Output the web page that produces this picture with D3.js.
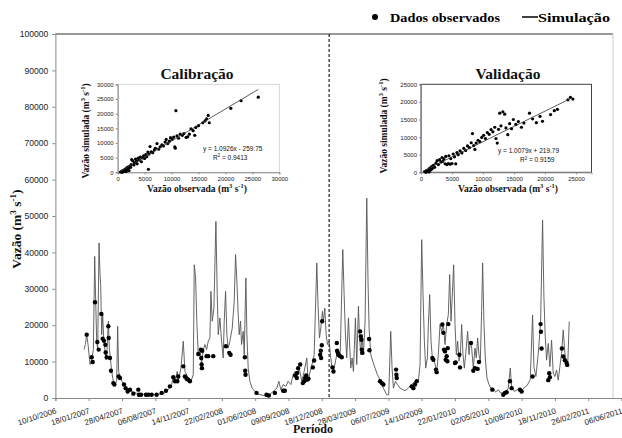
<!DOCTYPE html>
<html><head><meta charset="utf-8">
<script src="https://cdn.jsdelivr.net/npm/d3@7"></script>
<style>body{margin:0;background:#fff}svg{display:block}</style>
</head><body><svg id="c" width="622" height="438"></svg>
<script>
// ---------- DATA ----------
const startDate = "2006-10-10";
const endDate = "2011-06-06";
const splitDate = "2009-01-09";
const xTickLabels = ["10/10/2006","18/01/2007","28/04/2007","06/08/2007","14/11/2007","22/02/2008","01/06/2008","09/09/2008","18/12/2008","28/03/2009","06/07/2009","14/10/2009","22/01/2010","02/05/2010","10/08/2010","18/11/2010","26/02/2011","06/06/2011"];
const yTicks = [0,10000,20000,30000,40000,50000,60000,70000,80000,90000,100000];
// simulated flow: [days since start, m3/s]
const simSeries = [[86,13300],[90,14700],[94,17400],[98,14700],[104,9200],[109,10500],[114,13300],[118,38900],[121,26600],[124,15600],[127,13300],[131,42600],[134,33900],[136,31100],[139,17400],[142,22900],[145,16500],[148,13700],[152,10500],[155,13300],[159,21100],[162,13700],[165,11000],[169,7300],[174,4600],[179,3700],[184,4600],[187,19700],[190,7300],[194,5500],[200,4600],[206,3700],[212,2700],[219,2300],[226,1800],[234,1600],[244,1300],[259,1100],[274,900],[294,900],[314,1100],[329,1400],[339,2300],[349,3700],[354,5900],[359,4600],[366,7300],[369,4600],[377,8200],[384,15600],[389,7300],[399,5500],[407,4600],[414,6400],[417,36600],[421,33000],[425,20200],[429,11900],[434,13700],[439,9200],[444,13300],[449,14700],[454,13300],[459,15600],[464,16500],[467,29300],[471,21100],[476,24700],[482,48500],[486,28400],[489,17400],[494,22000],[499,15600],[504,11000],[507,21100],[511,29300],[515,17400],[519,13700],[524,15600],[531,19200],[537,26600],[541,39400],[545,32000],[549,22900],[552,17400],[556,21100],[559,14700],[564,18300],[567,11900],[572,33000],[575,17400],[579,8200],[584,4600],[591,2700],[599,1800],[609,1100],[624,700],[639,600],[654,1800],[665,2700],[671,4600],[677,2300],[684,3700],[692,3200],[699,4600],[707,3700],[714,6400],[720,7300],[725,5500],[732,8200],[740,4600],[747,7300],[755,11000],[759,4600],[765,7300],[773,10100],[777,11900],[785,37100],[789,24700],[793,16500],[797,19200],[802,23800],[805,21100],[809,24700],[813,17400],[817,14700],[822,15600],[827,11000],[831,8200],[835,7300],[840,9600],[845,11900],[850,12800],[855,11000],[863,40800],[867,28400],[871,17400],[875,11000],[880,22000],[883,15600],[887,8200],[891,11000],[895,7300],[901,22000],[905,9200],[910,25200],[913,17400],[917,11900],[921,17400],[925,11900],[930,21100],[935,54900],[939,31100],[942,19200],[947,11900],[953,10100],[960,8200],[967,6400],[975,5000],[985,2700],[995,900],[1001,900],[1007,18300],[1011,8200],[1015,2700],[1021,4600],[1027,3700],[1035,2700],[1050,2000],[1060,2700],[1070,3700],[1080,4600],[1090,4600],[1095,9200],[1100,43500],[1104,28400],[1108,15600],[1112,8200],[1117,11000],[1120,20200],[1124,28400],[1128,15600],[1132,11000],[1138,10100],[1145,7300],[1150,11900],[1155,20200],[1160,18300],[1165,20200],[1170,14700],[1175,20200],[1180,22900],[1184,33900],[1188,21100],[1192,28400],[1196,36600],[1200,20200],[1204,11900],[1208,15600],[1212,10100],[1216,11900],[1220,20200],[1224,11900],[1228,8200],[1232,11900],[1238,18300],[1242,11900],[1246,15600],[1250,13700],[1255,8200],[1260,13700],[1264,11000],[1268,16500],[1272,11900],[1276,10100],[1280,23800],[1283,37100],[1287,20200],[1291,11000],[1296,5500],[1302,3700],[1308,2700],[1315,2700],[1322,1600],[1330,2300],[1336,1400],[1344,1400],[1352,1600],[1360,2700],[1366,8200],[1370,3200],[1378,1800],[1388,2300],[1398,1600],[1406,2700],[1417,3500],[1426,5000],[1433,22800],[1437,8600],[1443,5900],[1450,12300],[1457,20500],[1463,48900],[1467,27800],[1471,16800],[1475,10400],[1480,15000],[1485,8600],[1490,15900],[1495,6800],[1500,5900],[1505,7700],[1510,4900],[1515,8600],[1520,12300],[1525,18700],[1530,12300],[1535,8600],[1539,10400],[1543,21000]];
// observed flow: [days since start, m3/s]
const obsSeries = [[94,17400],[109,11200],[112,9900],[119,26300],[126,15400],[130,13300],[138,23100],[142,16300],[146,15700],[150,14600],[151,12500],[154,11200],[159,19700],[160,16500],[164,11000],[167,7500],[174,4100],[177,3700],[190,5900],[194,5500],[206,3700],[211,2700],[217,1800],[224,2300],[234,1200],[249,2300],[251,900],[257,900],[272,900],[279,900],[289,900],[304,900],[319,1400],[332,2000],[344,3200],[354,5700],[359,4600],[366,4600],[369,5900],[384,8700],[389,5900],[394,5300],[399,5000],[404,4600],[429,12100],[437,13300],[438,11000],[439,9200],[440,8200],[441,13000],[454,11500],[459,11500],[474,11500],[512,14200],[522,12400],[526,11900],[569,11200],[570,7500],[571,6400],[604,1400],[634,900],[641,700],[659,1400],[684,2000],[689,2000],[720,6200],[725,5500],[726,6900],[729,8200],[735,9200],[743,4100],[747,4600],[750,5500],[753,6200],[755,5000],[760,5300],[773,8400],[777,10300],[795,11900],[797,13000],[798,11000],[800,14500],[801,21100],[832,8400],[835,7300],[845,15100],[846,13000],[848,12400],[850,11900],[855,11500],[860,11200],[915,18300],[917,16900],[919,16000],[920,13300],[922,12400],[942,16200],[943,13100],[975,4600],[980,4100],[985,3700],[1023,7800],[1024,6400],[1025,5500],[1070,3200],[1075,2700],[1080,3700],[1085,4600],[1132,11000],[1135,10500],[1143,7800],[1145,7100],[1162,20200],[1165,17900],[1167,13300],[1170,12800],[1172,10500],[1175,11500],[1177,10100],[1178,13700],[1180,20300],[1200,9600],[1202,9800],[1213,11900],[1215,8400],[1248,15100],[1255,7500],[1260,8200],[1268,8000],[1272,9900],[1312,2300],[1345,900],[1350,1400],[1355,1600],[1365,4600],[1370,2700],[1395,2300],[1400,1800],[1433,5900],[1457,20300],[1458,18200],[1460,13600],[1480,4900],[1483,6800],[1485,5700],[1521,13600],[1525,11400],[1530,10400],[1535,9700],[1537,9100]];

// inset: calibration scatter [observed, simulated]
const calTicks = [0,5000,10000,15000,20000,25000,30000];
const calPoints = [[500,100],[700,300],[800,0],[900,500],[1000,200],[1100,700],[1200,400],[1300,900],[1400,600],[1500,1200],[1600,300],[1700,1500],[1800,1000],[1900,1800],[2000,1300],[2100,600],[2200,2000],[2400,1700],[2500,2600],[2600,4300],[2800,3900],[3000,2500],[3100,3200],[3300,4500],[3500,3800],[3600,2900],[3800,4800],[4000,4200],[4200,5200],[4400,3600],[4600,4900],[4800,5600],[5000,4700],[5200,6000],[5400,5300],[5600,6900],[5700,1000],[5800,6200],[6000,8800],[6200,7000],[6500,6700],[6800,7600],[7000,8200],[7300,9800],[7600,7900],[7900,8700],[8200,9400],[8500,9000],[8800,10300],[9000,11200],[9300,9800],[9600,10600],[9800,11800],[10100,11300],[10400,12000],[10600,8700],[10700,8200],[10800,21000],[11000,12400],[11300,11600],[11600,13000],[12000,12600],[12300,13200],[12700,11900],[13000,12100],[13300,13000],[13600,14800],[14000,14200],[14300,12600],[14500,15300],[15000,15900],[15800,16900],[16200,17500],[16500,18200],[16800,19400],[17000,16900],[21000,21800],[22900,24400],[26100,25600]];
const calFit = [1.0926, -259.75];
const calFitRange = [300, 26100];
const calEq = ["y = 1.0926x - 259.75", "0.9413"];

// inset: validation scatter [observed, simulated]
const valTicks = [0,5000,10000,15000,20000,25000];
const valPoints = [[600,200],[800,0],[900,500],[1000,300],[1200,800],[1300,100],[1400,1200],[1500,600],[1700,1600],[1800,1000],[2000,2000],[2200,1400],[2400,2600],[2600,3300],[2800,2200],[3000,3600],[3200,2900],[3400,4200],[3500,3100],[3700,3800],[3900,2400],[4000,4500],[4200,2200],[4400,2500],[4500,4700],[4700,2300],[4800,3900],[5000,2500],[5200,5200],[5400,4400],[5600,2400],[5800,5600],[6000,5000],[6300,6100],[6600,5500],[6900,6800],[7200,6200],[7500,7500],[7800,7000],[8100,8400],[8300,11000],[8500,7600],[8700,6500],[8900,8300],[9200,9100],[9500,8700],[9800,9900],[10100,10500],[10400,9600],[10700,11300],[11000,10800],[11300,12100],[11600,11500],[11900,12800],[12100,9600],[12300,8300],[12500,12200],[12700,16800],[12900,13200],[13200,17200],[13500,16500],[13700,12600],[14000,10700],[14300,13800],[14600,12400],[14900,15000],[15300,13600],[15700,14400],[16200,12800],[16600,14000],[17500,16800],[18000,15200],[18600,14100],[19200,15900],[19600,14500],[20900,16400],[21500,17500],[22000,17900],[23700,20600],[24100,21300],[24500,20800]];
const valFitLine = [[300,300],[24300,21100]];
const valEq = ["y = 1.0079x + 219.79", "0.9159"];

// ---------- DRAW ----------
const svg = d3.select("#c");
const serif = "'Liberation Serif','Times New Roman',serif";
const sans = "'Liberation Sans',Arial,sans-serif";
const parseISO = d3.utcParse("%Y-%m-%d");
const parseBR = d3.utcParse("%d/%m/%Y");
const t0 = parseISO(startDate);
const dayToDate = d => d3.utcDay.offset(t0, d);

const x = d3.scaleUtc().domain([t0, parseISO(endDate)]).range([55.4, 621.5]);
const y = d3.scaleLinear().domain([0, 100000]).range([398, 34]);

function rich(parent, parts, fs, attrs) {
  const t = parent.append("text").attr("font-size", fs);
  Object.entries(attrs).forEach(([k, v]) => t.attr(k, v));
  let up = false;
  parts.forEach(([s, sup]) => {
    const ts = t.append("tspan").text(s);
    if (sup) { ts.attr("font-size", fs * 0.68); if (!up) { ts.attr("dy", -fs * 0.38); up = true; } }
    else if (up) { ts.attr("dy", fs * 0.38); up = false; }
  });
  return t;
}
const unitParts = pre => [[pre + "(m", 0], ["3", 1], [" s", 0], ["-1", 1], [")", 0]];

// plot frame
svg.append("line").attr("x1", 55.4).attr("x2", 613).attr("y1", 34).attr("y2", 34).attr("stroke", "#777").attr("stroke-width", 1.4);
svg.append("line").attr("x1", 613).attr("x2", 613).attr("y1", 34).attr("y2", 398).attr("stroke", "#ccc").attr("stroke-width", 1);

// y axis
const gy = svg.append("g").attr("transform", "translate(55.4,0)")
  .call(d3.axisLeft(y).tickValues(yTicks).tickSize(3).tickPadding(4).tickFormat(d => String(d)));
gy.select(".domain").attr("stroke", "#888");
gy.selectAll(".tick line").attr("stroke", "#888");
gy.selectAll("text").attr("font-family", sans).attr("font-size", 8.6).attr("fill", "#222");

// x axis
const xTickDates = xTickLabels.map(parseBR);
const gx = svg.append("g").attr("transform", "translate(0,398)")
  .call(d3.axisBottom(x).tickValues(xTickDates).tickSize(3).tickFormat((d, i) => xTickLabels[i]));
gx.select(".domain").attr("stroke", "#888");
gx.selectAll(".tick line").attr("stroke", "#888");
gx.selectAll("text").attr("font-family", sans).attr("font-size", 8).attr("fill", "#222")
  .attr("text-anchor", "end").attr("y", 0).attr("dy", 0)
  .attr("transform", "translate(1,15) rotate(-18)");

// simulated line
const line = d3.line().x(d => x(dayToDate(d[0]))).y(d => y(d[1]));
svg.append("path").datum(simSeries).attr("d", line).attr("fill", "none").attr("stroke", "#555").attr("stroke-width", 0.9);

// observed dots
svg.append("g").selectAll("circle").data(obsSeries).join("circle")
  .attr("cx", d => x(dayToDate(d[0]))).attr("cy", d => y(d[1])).attr("r", 2.2).attr("fill", "#000");

// split line
const xs = x(parseISO(splitDate));
svg.append("line").attr("x1", xs).attr("x2", xs).attr("y1", 34).attr("y2", 398)
  .attr("stroke", "#222").attr("stroke-width", 1.2).attr("stroke-dasharray", "3,2");

// axis titles
rich(svg, unitParts("Vazão "), 13.5, {"font-family": serif, "font-weight": "bold", "text-anchor": "middle", "transform": "translate(21,229) rotate(-90)", fill: "#111"});
svg.append("text").text("Período").attr("x", 313).attr("y", 433).attr("text-anchor", "middle")
  .attr("font-family", serif).attr("font-weight", "bold").attr("font-size", 12).attr("fill", "#111");

// legend
svg.append("circle").attr("cx", 375).attr("cy", 17).attr("r", 3).attr("fill", "#000");
svg.append("text").text("Dados observados").attr("x", 390).attr("y", 21.5).attr("font-family", serif)
  .attr("font-weight", "bold").attr("font-size", 13).attr("textLength", 110).attr("lengthAdjust", "spacingAndGlyphs");
svg.append("line").attr("x1", 522).attr("x2", 538).attr("y1", 17).attr("y2", 17).attr("stroke", "#000").attr("stroke-width", 1.5);
svg.append("text").text("Simulação").attr("x", 538).attr("y", 21.5).attr("font-family", serif)
  .attr("font-weight", "bold").attr("font-size", 13).attr("textLength", 72).attr("lengthAdjust", "spacingAndGlyphs");

// insets
function inset(o) {
  const g = svg.append("g");
  const sx = d3.scaleLinear().domain(o.xDom).range([o.x0, o.x1]);
  const sy = d3.scaleLinear().domain(o.yDom).range([172.3, 84.3]);
  g.append("rect").attr("x", o.x0).attr("y", 84.3).attr("width", o.x1 - o.x0).attr("height", 88)
    .attr("fill", "#fff").attr("stroke", o.frame).attr("stroke-width", o.frameW);
  const ax = g.append("g").attr("transform", "translate(0,172.3)")
    .call(d3.axisBottom(sx).tickValues(o.xTicks).tickSize(2).tickPadding(2).tickFormat(d => String(d)));
  const ay = g.append("g").attr("transform", `translate(${o.x0},0)`)
    .call(d3.axisLeft(sy).tickValues(o.yTicks).tickSize(2).tickPadding(2).tickFormat(d => String(d)));
  [ax, ay].forEach(a => {
    a.select(".domain").attr("stroke", "#888");
    a.selectAll(".tick line").attr("stroke", "#888");
    a.selectAll("text").attr("font-family", sans).attr("font-size", 6).attr("fill", "#222");
  });
  g.append("g").selectAll("circle").data(o.points).join("circle")
    .attr("cx", d => sx(d[0])).attr("cy", d => sy(d[1])).attr("r", 1.6).attr("fill", "#000");
  g.append("line").attr("x1", sx(o.fit[0][0])).attr("y1", sy(o.fit[0][1]))
    .attr("x2", sx(o.fit[1][0])).attr("y2", sy(o.fit[1][1])).attr("stroke", "#333").attr("stroke-width", 0.8);
  g.append("text").text(o.eq[0]).attr("x", o.eqX).attr("y", o.eqY).attr("font-family", sans).attr("font-size", 6.5).attr("fill", "#111");
  rich(g, [["R", 0], ["2", 1], [" = " + o.eq[1], 0]], 6.5, {x: o.r2X, y: o.eqY + 9, "font-family": sans, fill: "#111"});
  g.append("text").text(o.title).attr("x", o.tx).attr("y", 79).attr("text-anchor", "middle")
    .attr("font-family", serif).attr("font-weight", "bold").attr("font-size", 15.5).attr("fill", "#111");
  rich(g, unitParts("Vazão observada "), 9.5, {x: o.tx, y: 191.5, "text-anchor": "middle", "font-family": serif, "font-weight": "bold", fill: "#111"});
  rich(g, unitParts("Vazão simulada "), 9.5, {"text-anchor": "middle", transform: `translate(${o.ylx},${o.yly}) rotate(-90)`, "font-family": serif, "font-weight": "bold", fill: "#111"});
}
const calLine = calFitRange.map(v => [v, calFit[0] * v + calFit[1]]);
inset({xDom: [0, 30000], yDom: [0, 30000], x0: 117.7, x1: 279.3, xTicks: calTicks, yTicks: calTicks,
  points: calPoints, fit: calLine, eq: calEq, eqX: 203, eqY: 150.5, r2X: 213, title: "Calibração", tx: 197,
  ylx: 89, yly: 131, frame: "#ccc", frameW: 0.8});
inset({xDom: [0, 27500], yDom: [0, 25000], x0: 421, x1: 591.5, xTicks: valTicks, yTicks: valTicks,
  points: valPoints, fit: valFitLine, eq: valEq, eqX: 498, eqY: 153, r2X: 520, title: "Validação", tx: 508,
  ylx: 387, yly: 126, frame: "#444", frameW: 1});
</script></body></html>
